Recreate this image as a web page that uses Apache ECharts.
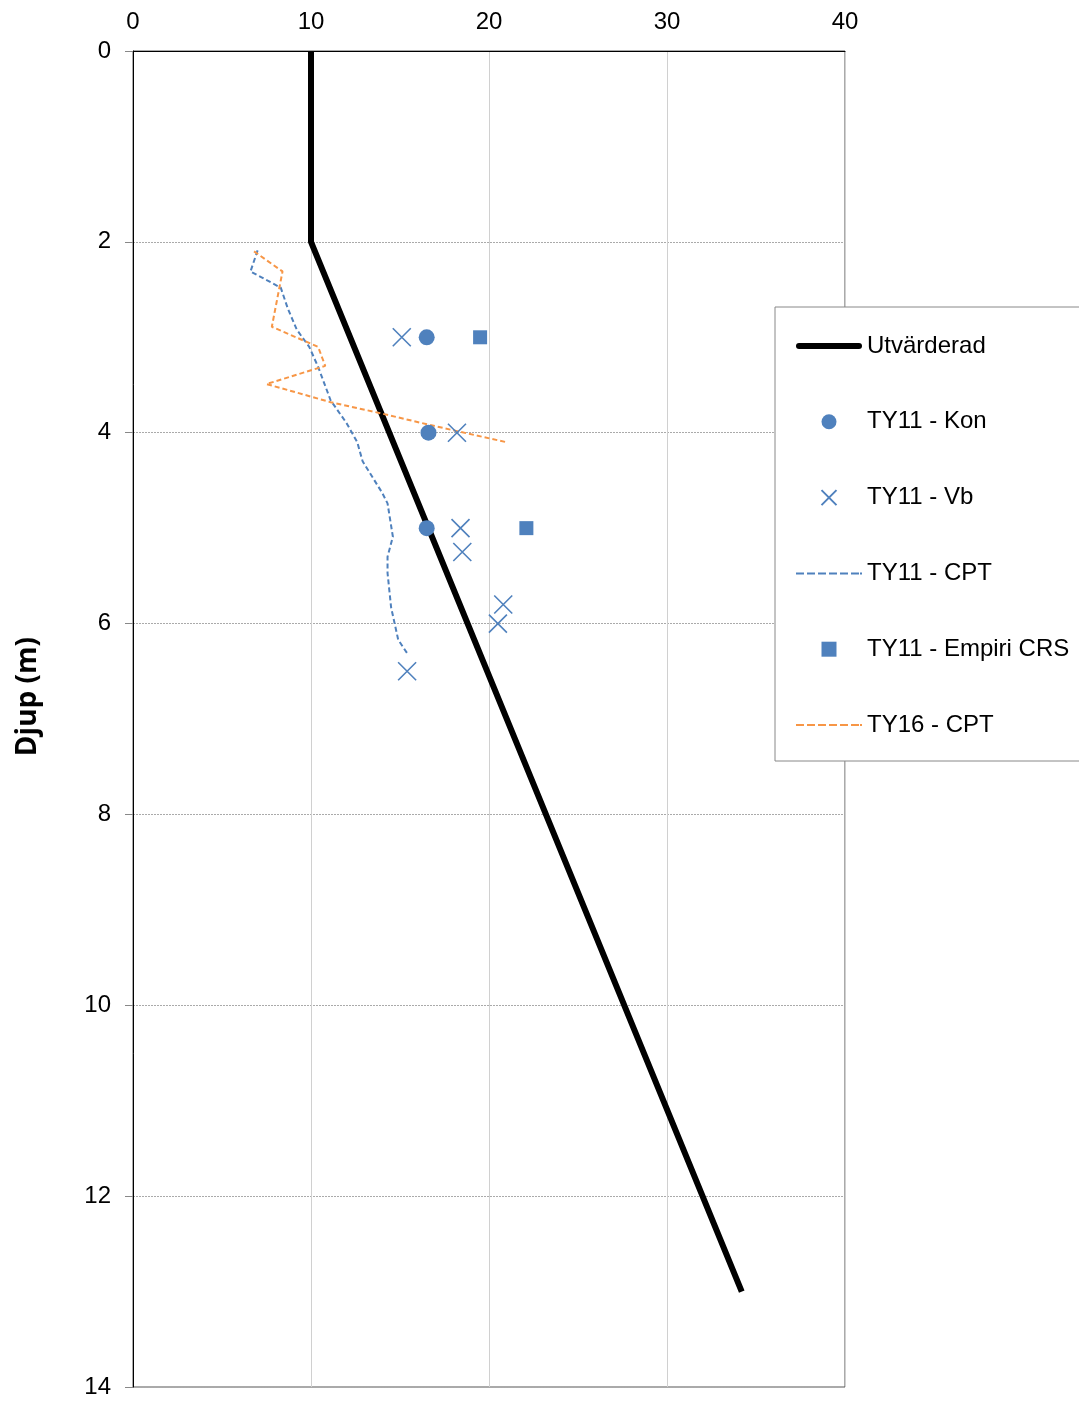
<!DOCTYPE html>
<html>
<head>
<meta charset="utf-8">
<script src="https://cdn.jsdelivr.net/npm/echarts@6/dist/echarts.min.js"></script>
<style>
  html, body { margin: 0; padding: 0; background: #fff; }
  #chart { width: 1079px; height: 1401px; }
</style>
</head>
<body>
<div id="chart"></div>
<script>
// Shear strength profile versus depth (x = value, y = depth in m)
const xTicks = [0, 10, 20, 30, 40];
const depthTicks = [0, 2, 4, 6, 8, 10, 12, 14];

// Evaluated design line
const utvarderad = [[10, 0], [10, 2], [34.2, 13.0]];

// TY11 fall cone tests
const ty11Kon = [[16.5, 3.0], [16.6, 4.0], [16.5, 5.0]];

// TY11 vane tests
const ty11Vb = [[15.1, 3.0], [18.2, 4.0], [18.4, 5.0], [18.5, 5.25], [20.8, 5.8], [20.5, 6.0], [15.4, 6.5]];

// TY11 empirical from CRS
const ty11Crs = [[19.5, 3.0], [22.1, 5.0]];

// TY11 CPT sounding
const ty11Cpt = [
  [7.0, 2.09], [6.6, 2.31], [8.3, 2.48], [8.7, 2.7], [9.2, 2.92], [9.9, 3.1],
  [10.4, 3.31], [11.1, 3.66], [12.0, 3.9], [12.6, 4.1], [12.9, 4.3], [13.3, 4.42],
  [14.0, 4.63], [14.3, 4.74], [14.6, 5.09], [14.3, 5.3], [14.3, 5.47], [14.5, 5.83],
  [14.9, 6.17], [15.4, 6.31]
];

// TY16 CPT sounding
const ty16Cpt = [
  [6.8, 2.1], [8.4, 2.31], [7.8, 2.89], [10.4, 3.1], [10.8, 3.3], [7.5, 3.49],
  [11.1, 3.68], [14.0, 3.8], [16.7, 3.92], [21.0, 4.1]
];

const BLUE = '#4F81BD';
const ORANGE = '#F79646';
const FONT = '"Liberation Sans", Arial, sans-serif';

// legend glyphs: thick rounded bar, dashed stroke, square marker
const ICON_THICK = 'path://M3,0L63,0A3,3,0,0,1,63,6L3,6A3,3,0,0,1,3,0Z';
const ICON_DASH = 'path://M0,0h8v2h-8zM11,0h8v2h-8zM22,0h8v2h-8zM33,0h8v2h-8zM44,0h8v2h-8zM55,0h8v2h-8zM64,0h2v2h-2z';
const ICON_SQUARE = 'path://M0,0h10v10h-10z';

const chart = echarts.init(document.getElementById('chart'));
chart.setOption({
  animation: false,
  backgroundColor: '#fff',
  grid: {
    left: 133, top: 51, right: 234, bottom: 14,
    show: true, borderColor: '#555', borderWidth: 1
  },
  graphic: [{
    type: 'text',
    left: 14, top: 637,
    rotation: Math.PI / 2,
    style: {
      text: 'Djup (m)',
      font: 'bold 28px "Open Sans", "Noto Sans", sans-serif',
      fill: '#000'
    }
  }],
  legend: {
    orient: 'vertical',
    left: 775, top: 307,
    width: 340,
    padding: [27, 40, 24, 21],
    backgroundColor: '#fff',
    borderColor: '#888',
    borderWidth: 1,
    itemWidth: 66,
    itemHeight: 15,
    itemGap: 51.8,
    textStyle: { fontFamily: FONT, fontSize: 24, color: '#000' },
    data: [
      { name: 'Utvärderad', icon: ICON_THICK, itemStyle: { color: '#000', borderWidth: 0 } },
      { name: 'TY11 - Kon', icon: 'circle' },
      { name: 'TY11 - Vb' },
      { name: 'TY11 - CPT', icon: ICON_DASH, itemStyle: { color: BLUE, borderWidth: 0 } },
      { name: 'TY11 - Empiri CRS', icon: ICON_SQUARE, itemStyle: { color: BLUE, borderWidth: 0 } },
      { name: 'TY16 - CPT', icon: ICON_DASH, itemStyle: { color: ORANGE, borderWidth: 0 } }
    ]
  },
  xAxis: {
    type: 'value',
    position: 'top',
    min: xTicks[0], max: xTicks[xTicks.length - 1], interval: 10,
    axisLine: { show: true, lineStyle: { color: '#000', width: 1 } },
    axisTick: { show: false },
    axisLabel: { fontFamily: FONT, fontSize: 24, color: '#000', margin: 17 },
    splitLine: { show: true, lineStyle: { color: '#d0d0d0', width: 1 } }
  },
  yAxis: {
    type: 'value',
    inverse: true,
    min: depthTicks[0], max: depthTicks[depthTicks.length - 1], interval: 2,
    axisLine: { show: true, lineStyle: { color: '#000', width: 1 } },
    axisTick: { show: true, inside: false, length: 8, lineStyle: { color: '#888' } },
    axisLabel: { fontFamily: FONT, fontSize: 24, color: '#000', margin: 22 },
    splitLine: { show: true, lineStyle: { color: '#aaa', width: 1, type: [2, 1] } }
  },
  series: [
    {
      name: 'Utvärderad', type: 'line', data: utvarderad,
      showSymbol: false, symbol: 'none',
      lineStyle: { color: '#000', width: 6 },
      itemStyle: { color: '#000' },
      z: 3
    },
    {
      name: 'TY11 - Kon', type: 'scatter', data: ty11Kon,
      symbol: 'circle', symbolSize: 16,
      itemStyle: { color: BLUE, opacity: 1 },
      z: 5
    },
    {
      name: 'TY11 - Vb', type: 'scatter', data: ty11Vb,
      symbol: 'path://M0,0L10,10M10,0L0,10', symbolSize: 18,
      itemStyle: { color: 'none', borderColor: BLUE, borderWidth: 1.6, opacity: 1 },
      z: 5
    },
    {
      name: 'TY11 - CPT', type: 'line', data: ty11Cpt,
      showSymbol: false, symbol: 'none',
      lineStyle: { color: BLUE, width: 2, type: [5, 3] },
      itemStyle: { color: BLUE },
      z: 4
    },
    {
      name: 'TY11 - Empiri CRS', type: 'scatter', data: ty11Crs,
      symbol: 'rect', symbolSize: 14,
      itemStyle: { color: BLUE, opacity: 1 },
      z: 5
    },
    {
      name: 'TY16 - CPT', type: 'line', data: ty16Cpt,
      showSymbol: false, symbol: 'none',
      lineStyle: { color: ORANGE, width: 2, type: [5, 3] },
      itemStyle: { color: ORANGE },
      z: 4
    }
  ]
});
</script>
</body>
</html>
